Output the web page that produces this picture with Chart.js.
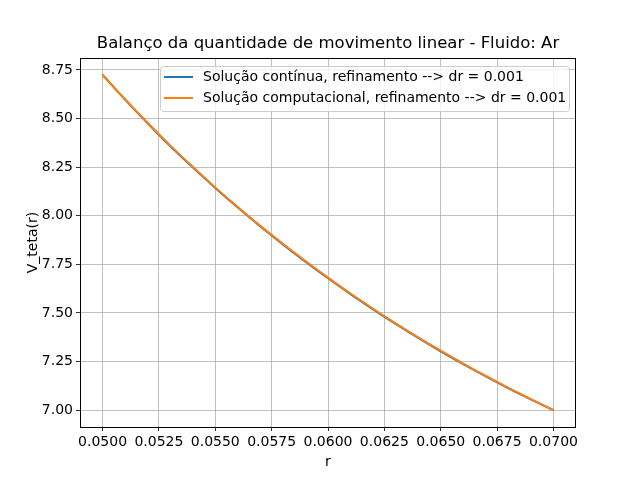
<!DOCTYPE html>
<html>
<head>
<meta charset="utf-8">
<script src="https://cdn.jsdelivr.net/npm/chart.js@4/dist/chart.umd.min.js"></script>
<style>
  html, body { margin: 0; padding: 0; background: #fff; }
  #wrap { width: 640px; height: 480px; }
</style>
</head>
<body>
<div id="wrap"><canvas id="c" width="640" height="480"></canvas></div>
<script>
// ===== Data =====
const R_VALUES = [0.050, 0.051, 0.052, 0.053, 0.054, 0.055, 0.056, 0.057, 0.058, 0.059, 0.060,
                  0.061, 0.062, 0.063, 0.064, 0.065, 0.066, 0.067, 0.068, 0.069, 0.070];
const V_CONTINUA = [8.725, 8.597, 8.475, 8.359, 8.249, 8.143, 8.042, 7.945, 7.853, 7.764, 7.679,
                    7.597, 7.519, 7.444, 7.372, 7.303, 7.237, 7.174, 7.113, 7.056, 7.000];
const V_COMPUT = [8.725, 8.599, 8.478, 8.362, 8.252, 8.146, 8.045, 7.948, 7.856, 7.767, 7.682,
                  7.600, 7.522, 7.447, 7.375, 7.306, 7.240, 7.176, 7.115, 7.057, 7.000];
const X_TICKS = [0.0500, 0.0525, 0.0550, 0.0575, 0.0600, 0.0625, 0.0650, 0.0675, 0.0700];
const Y_TICKS = [7.00, 7.25, 7.50, 7.75, 8.00, 8.25, 8.50, 8.75];
const SERIES_LABELS = ['Solução contínua, refinamento --> dr = 0.001',
                       'Solução computacional, refinamento --> dr = 0.001'];
const TITLE = 'Balanço da quantidade de movimento linear - Fluido: Ar';
const X_LABEL = 'r';
const Y_LABEL = 'V_teta(r)';

const FONT = 'DejaVu Sans';
const COLORS = ['#1f77b4', '#ff7f0e'];

// ===== Layout (matplotlib default axes box) =====
const AX = { left: 80, right: 576, top: 58, bottom: 427 };

const frameAndText = {
  id: 'frameAndText',
  afterDraw(chart) {
    const ctx = chart.ctx;
    const a = chart.chartArea;
    ctx.save();
    // frame
    ctx.strokeStyle = '#000';
    ctx.lineWidth = 1;
    ctx.strokeRect(Math.round(a.left) + 0.5, Math.round(a.top) + 0.5,
                   Math.round(a.right - a.left) - 1, Math.round(a.bottom - a.top));
    // title
    ctx.fillStyle = '#000';
    ctx.textAlign = 'center';
    ctx.textBaseline = 'middle';
    ctx.font = `16.5px "${FONT}"`;
    ctx.fillText(TITLE, (a.left + a.right) / 2, 44);
    // axis labels
    ctx.font = `14px "${FONT}"`;
    ctx.fillText(X_LABEL, (a.left + a.right) / 2, 462);
    ctx.translate(33, (a.top + a.bottom) / 2);
    ctx.rotate(-Math.PI / 2);
    ctx.fillText(Y_LABEL, 0, 0);
    ctx.restore();

    // legend
    ctx.save();
    const lx = 160, ly = 66, lw = 409, lh = 45;
    ctx.fillStyle = 'rgba(255,255,255,0.8)';
    ctx.strokeStyle = '#cccccc';
    ctx.lineWidth = 1;
    ctx.beginPath();
    ctx.roundRect(lx + 0.5, ly + 0.5, lw, lh, 3);
    ctx.fill();
    ctx.stroke();
    ctx.font = `14px "${FONT}"`;
    ctx.textAlign = 'left';
    ctx.textBaseline = 'middle';
    chart.data.datasets.forEach((ds, i) => {
      const y = 77 + i * 21;
      ctx.strokeStyle = ds.borderColor;
      ctx.lineWidth = 2;
      ctx.beginPath();
      ctx.moveTo(164, y);
      ctx.lineTo(193, y);
      ctx.stroke();
      ctx.fillStyle = '#000';
      ctx.fillText(ds.label, 203, y);
    });
    ctx.restore();
  }
};

new Chart(document.getElementById('c'), {
  type: 'line',
  data: {
    datasets: [
      { label: SERIES_LABELS[0], data: R_VALUES.map((r, i) => ({ x: r, y: V_CONTINUA[i] })),
        borderColor: COLORS[0], borderWidth: 2, pointRadius: 0, tension: 0.3, fill: false, order: 1 },
      { label: SERIES_LABELS[1], data: R_VALUES.map((r, i) => ({ x: r, y: V_COMPUT[i] })),
        borderColor: COLORS[1], borderWidth: 2, pointRadius: 0, tension: 0.3, fill: false, order: 0 }
    ]
  },
  options: {
    responsive: false,
    animation: false,
    devicePixelRatio: 1,
    layout: { padding: { left: 0, right: 640 - AX.right, top: AX.top, bottom: 0 } },
    plugins: { legend: { display: false }, title: { display: false }, tooltip: { enabled: false } },
    scales: {
      x: {
        type: 'linear',
        min: 0.049, max: 0.071,
        afterBuildTicks: s => { s.ticks = X_TICKS.map(v => ({ value: v })); },
        afterFit: s => { s.height = 480 - AX.bottom; },
        ticks: { font: { family: FONT, size: 14 }, color: '#000', padding: 3,
                 maxRotation: 0, autoSkip: false, callback: v => v.toFixed(4) },
        grid: { color: '#b0b0b0', lineWidth: 0.8, tickColor: '#000', tickLength: 4 },
        border: { display: false }
      },
      y: {
        type: 'linear',
        min: 6.9137, max: 8.8113,
        afterBuildTicks: s => { s.ticks = Y_TICKS.map(v => ({ value: v })); },
        afterFit: s => { s.width = AX.left; },
        ticks: { font: { family: FONT, size: 14 }, color: '#000', padding: 3,
                 autoSkip: false, callback: v => v.toFixed(2) },
        grid: { color: '#b0b0b0', lineWidth: 0.8, tickColor: '#000', tickLength: 4 },
        border: { display: false }
      }
    }
  },
  plugins: [frameAndText]
});
</script>
</body>
</html>
